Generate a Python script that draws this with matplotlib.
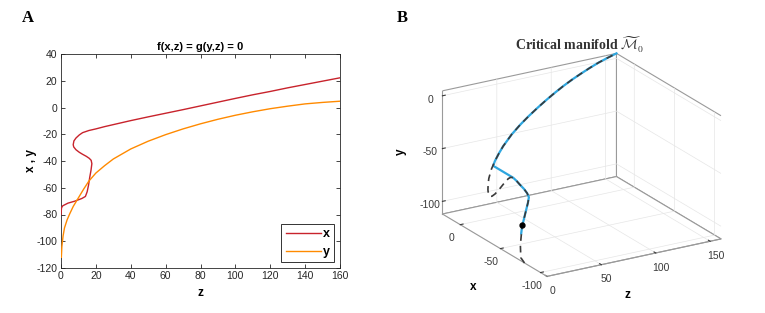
import numpy as np
import matplotlib
matplotlib.use("Agg")
import matplotlib.pyplot as plt

plt.rcParams["axes.unicode_minus"] = False

# ---------------- data ----------------
# red curve: x branch of f(x,z)=0, ordered along the curve
x_curve_z = [0, 0.3, 1, 4, 8, 12, 14, 15, 15.8, 16.5, 17.2, 17.7, 17.3, 16.2, 14.5, 12.4, 10.5, 8.6, 7.3, 7.0,
             7.4, 8.6, 10.5, 12.4, 16, 20, 25, 30, 40, 50, 60, 70, 80, 90, 100, 110, 120, 130, 140, 150, 160]
x_curve_x = [-80, -75, -73.5, -71.5, -70, -68, -66.5, -63, -58, -52, -47, -42, -39.5, -38, -36.5, -35, -33.5,
             -31.6, -29.5, -27.8, -25, -22.8, -20.5, -18.8, -17.2, -16, -14.3, -12.8, -9.8, -7.0, -4.3, -1.6,
             1.2, 4, 6.8, 9.5, 12, 14.7, 17.2, 19.7, 22.2]
# orange curve: y branch of g(y,z)=0
y_curve_z = [0.2, 0.5, 1.2, 2, 3.5, 5, 7, 10, 13, 16, 20, 25, 30, 40, 50, 60, 70, 80, 90, 100, 110, 120, 130,
             140, 150, 160]
y_curve_y = [-112, -104, -96, -90, -84, -79.5, -74, -67.5, -61, -55, -49, -43.5, -38.5, -31, -25.2, -20.3,
             -16, -12.2, -8.8, -5.8, -3.2, -0.9, 1.0, 2.7, 3.8, 4.7]

# trajectory (blue) in panel B: z, x coordinates
traj_z = [2.5, 4, 8, 12, 14, 15, 15.8, 16.5, 17.2, 17.7, 17.7, 20, 25, 30, 40, 50, 60, 70, 80, 90, 100, 110,
          120, 130, 140, 150, 160]
traj_x = [-72.5, -71.5, -70, -68, -66.5, -63, -58, -52, -47, -42, -17.0, -16, -14.3, -12.8, -9.8, -7.0, -4.3,
          -1.6, 1.2, 4, 6.8, 9.5, 12, 14.7, 17.2, 19.7, 22.2]
dot_z, dot_x = 4.5, -71.3

xticks_A = [0, 20, 40, 60, 80, 100, 120, 140, 160]
yticks_A = [-120, -100, -80, -60, -40, -20, 0, 20, 40]

# ---------------- style ----------------
RED = "#C8232C"
ORANGE = "#FF8A00"
BLUE = "#2EA6DF"
SANS = ["Liberation Sans", "DejaVu Sans"]
SERIF = ["Liberation Serif", "DejaVu Serif"]

fig = plt.figure(figsize=(7.65, 3.13), dpi=100)

# ---------------- panel A ----------------
ax = fig.add_axes([61 / 765, 1 - 268 / 313, 279 / 765, 214 / 313])
ax.plot(x_curve_z, x_curve_x, color=RED, lw=1.0, label="x", zorder=3)
ax.plot(y_curve_z, y_curve_y, color=ORANGE, lw=1.0, label="y", zorder=3)
ax.set_xlim(0, 160)
ax.set_ylim(-120, 40)
ax.set_xticks(xticks_A)
ax.set_yticks(yticks_A)
ax.tick_params(direction="in", length=3, width=0.6, labelsize=7.5, top=True, right=True,
               labeltop=False, labelright=False, colors="#262626", pad=2.5)
for lab in ax.get_xticklabels() + ax.get_yticklabels():
    lab.set_family(SANS)
for s in ax.spines.values():
    s.set_linewidth(0.6)
    s.set_color("#262626")
ax.set_title("f(x,z) = g(y,z) = 0", fontsize=8, fontweight="bold", family=SANS, pad=3)
ax.set_xlabel("z", fontsize=8.5, fontweight="bold", family=SANS, labelpad=4)
ax.set_ylabel("x , y", fontsize=8.5, fontweight="bold", family=SANS, labelpad=0)
leg = ax.legend(loc="lower right", prop={"family": SANS, "weight": "bold", "size": 9},
                handlelength=2.8, handletextpad=0.2, borderpad=0.35, labelspacing=0.45,
                fancybox=False, edgecolor="black", borderaxespad=0.45)
leg.get_frame().set_linewidth(0.7)

fig.text(22 / 765, 1 - 18 / 313, "A", family=SERIF, fontsize=12, fontweight="bold", va="center")
fig.text(397 / 765, 1 - 18 / 313, "B", family=SERIF, fontsize=12, fontweight="bold", va="center")

# ---------------- panel B (3D) ----------------
crit_y = np.interp(x_curve_z, y_curve_z, y_curve_y)
traj_y = np.interp(traj_z, y_curve_z, y_curve_y)
dot_y = np.interp(dot_z, y_curve_z, y_curve_y)

ax3 = fig.add_axes([0.525, -0.03, 0.46, 0.98], projection="3d")
ax3.set_proj_type("ortho")
ax3.view_init(elev=21, azim=-121)
ax3.set_box_aspect((1, 1, 0.65))

ax3.plot(traj_z, traj_x, traj_y, color=BLUE, lw=1.6)
ax3.plot(x_curve_z, x_curve_x, crit_y, color="#3a3a3a", lw=1.2, ls=(0, (4, 3)))
ax3.plot([dot_z], [dot_x], [dot_y], "o", color="black", ms=3.5)

ax3.set_xlim(0, 160)
ax3.set_ylim(-108, 22.2)
ax3.set_zlim(-112, 4.7)
ax3.set_xticks([0, 50, 100, 150])
ax3.set_yticks([-100, -50, 0])
ax3.set_zticks([-100, -50, 0])
for a in (ax3.xaxis, ax3.yaxis, ax3.zaxis):
    a.set_pane_color((1, 1, 1, 1))
    a.pane.set_edgecolor("#9a9a9a")
    a.pane.set_linewidth(0.8)
    a.line.set_color("#9a9a9a")
    a.line.set_linewidth(0.8)
    a._axinfo["grid"]["color"] = "#e6e6e6"
    a._axinfo["grid"]["linewidth"] = 0.5
    a._axinfo["tick"]["inward_factor"] = 0.0
    a._axinfo["tick"]["outward_factor"] = 0.2
    a._axinfo["tick"]["color"] = "#9a9a9a"
ax3.tick_params(labelsize=7.5, colors="#3a3a3a", pad=-2)
ax3.zaxis.set_tick_params(pad=-3)
for lab in ax3.get_xticklabels() + ax3.get_yticklabels() + ax3.get_zticklabels():
    lab.set_family(SANS)
ax3.set_xlabel("")
ax3.set_ylabel("")
ax3.set_zlabel("")
fig.text(627 / 765, 1 - 295 / 313, "z", fontsize=8.5, fontweight="bold", family=SANS,
         ha="center", va="center")
fig.text(473 / 765, 1 - 287 / 313, "x", fontsize=8.5, fontweight="bold", family=SANS,
         ha="center", va="center")
fig.text(401 / 765, 1 - 152 / 313, "y", fontsize=8.5, fontweight="bold", family=SANS,
         ha="center", va="center", rotation=90)

fig.text(580 / 765, 1 - 45 / 313, r"Critical manifold $\widetilde{\mathcal{M}}_0$",
         family=SERIF, fontsize=10, fontweight="bold", color="#333333",
         ha="center", va="center", math_fontfamily="cm")

fig.savefig("out.png", dpi=100)
